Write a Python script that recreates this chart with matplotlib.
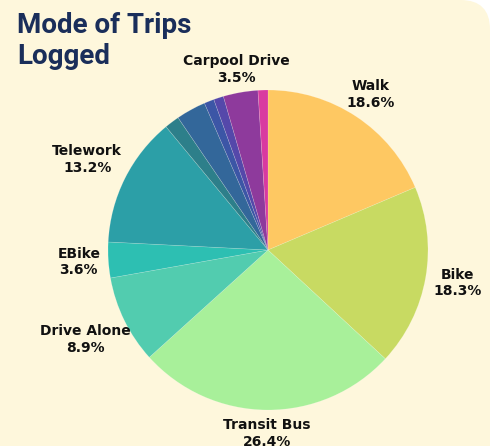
import numpy as np
import matplotlib.pyplot as plt
from matplotlib.patches import FancyBboxPatch

# Trip modes, clockwise from the top
modes = ['Walk', 'Bike', 'Transit Bus', 'Drive Alone', 'EBike', 'Telework',
         'Rail', 'Carpool Ride', 'Vanpool', 'Scooter', 'Carpool Drive', 'Other']
shares = [18.6, 18.3, 26.4, 8.9, 3.6, 13.2, 1.5, 3.0, 1.0, 1.0, 3.5, 1.0]
colors = ['#FEC862', '#C8DA62', '#A8F09A', '#52CCAF', '#2DBFB2', '#2C9FA7',
          '#2D7F8A', '#33679A', '#3C56A6', '#5548AA', '#8E3A9C', '#D93AA0']
min_label = 3.5

W, H = 490, 446
cx, cy, R = 268, 250, 160

fig = plt.figure(figsize=(W / 100, H / 100), dpi=100)
fig.patch.set_facecolor('white')

# cream card, only the top right corner is rounded in view
card = FancyBboxPatch((-0.2, -0.2), 1.2, 1.2,
                      boxstyle='round,pad=0,rounding_size=0.06',
                      mutation_aspect=W / H,
                      transform=fig.transFigure, facecolor='#FEF7DC',
                      edgecolor='none', zorder=-5)
fig.patches.append(card)

ax = fig.add_axes([0, 0, 1, 1])
ax.set_zorder(1)
ax.axis('off')
ax.patch.set_alpha(0)

wedges, _ = ax.pie(shares, colors=colors, startangle=90, counterclock=False,
                   radius=1, center=(0, 0), frame=False,
                   wedgeprops=dict(linewidth=0.4, edgecolor='#FFFFFF40'))
ax.set_xlim(-cx / R, (W - cx) / R)
ax.set_ylim(-(H - cy) / R, cy / R)
ax.set_aspect('auto')

# outside labels: label centre sits on the mid-angle ray, box edge just off the rim
fig.canvas.draw()
renderer = fig.canvas.get_renderer()
for w, name, val in zip(wedges, modes, shares):
    if val < min_label:
        continue
    theta = np.deg2rad((w.theta1 + w.theta2) / 2)
    ux, uy = np.cos(theta), np.sin(theta)
    t = ax.text(0, 0, f'{name}\n{val:.1f}%', ha='center', va='center',
                fontsize=10, fontweight='bold', family='DejaVu Sans',
                color='#111111', linespacing=1.25, multialignment='center')
    bb = t.get_window_extent(renderer)
    hw, hh = bb.width / R / 2, bb.height / R / 2
    edge = min(hw / max(abs(ux), 1e-6), hh / max(abs(uy), 1e-6))
    d = 1.05 + edge
    t.set_position((ux * d, uy * d))

fig.text(17 / W, 1 - 12 / H, 'Mode of Trips\nLogged', ha='left', va='top',
         fontsize=20, fontweight='bold', family='Roboto', color='#1A2E5A',
         linespacing=1.2, zorder=2)

fig.savefig('out.png', dpi=100, facecolor=fig.get_facecolor())
